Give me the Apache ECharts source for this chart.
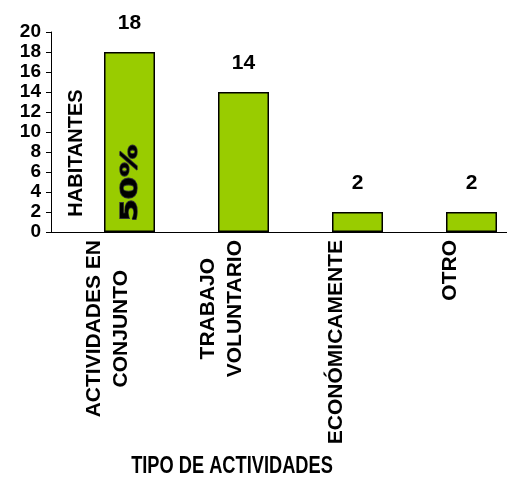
<!DOCTYPE html>
<html>
<head>
<meta charset="utf-8">
<script src="https://cdn.jsdelivr.net/npm/echarts@6/dist/echarts.min.js"></script>
<style>
  html, body { margin: 0; padding: 0; background: #fff; }
  #chart { width: 507px; height: 477px; }
</style>
</head>
<body>
<div id="chart"></div>
<script>
// Inhabitants by type of activity
const categories = ['ACTIVIDADES EN\nCONJUNTO', 'TRABAJO\nVOLUNTARIO', 'ECONÓMICAMENTE', 'OTRO'];
const habitantes = [18, 14, 2, 2];
// empty leading slot in every category, pushes the bars to the right
const spacer = ['-', '-', '-', '-'];
const yMin = 0, yMax = 20, yStep = 2;

const FONT = '"Liberation Sans", Arial, sans-serif';
const total = habitantes.reduce((a, b) => a + b, 0);
const share = Math.round(habitantes[0] / total * 100) + '%';

const chart = echarts.init(document.getElementById('chart'), null, { renderer: 'canvas' });

const option = {
  animation: false,
  backgroundColor: '#fff',
  grid: { left: 51, right: 0, top: 32, bottom: 245 },
  xAxis: {
    type: 'category',
    data: categories,
    axisLine: { lineStyle: { color: '#000', width: 1 } },
    axisTick: { length: 5, lineStyle: { color: '#000' } },
    axisLabel: {
      interval: 0,
      rotate: 90,
      margin: 8,
      color: '#000',
      fontFamily: FONT,
      fontSize: 21,
      fontWeight: 'bold',
      lineHeight: 27,
      formatter: v => v.split('\n').map(l => '{c|' + l + '}').join('\n'),
      rich: {
        c: { align: 'center', color: '#000', fontFamily: FONT, fontSize: 21, fontWeight: 'bold', lineHeight: 27 }
      }
    }
  },
  yAxis: {
    type: 'value',
    min: yMin, max: yMax, interval: yStep,
    splitLine: { show: false },
    axisLine: { show: true, lineStyle: { color: '#000', width: 1 } },
    axisTick: { show: true, length: 5, lineStyle: { color: '#000' } },
    axisLabel: { margin: 10, color: '#000', fontFamily: FONT, fontSize: 19, fontWeight: 'bold' }
  },
  series: [
    {
      type: 'bar', data: spacer, barWidth: 43, barGap: 0, silent: true,
      itemStyle: { color: 'transparent' }
    },
    {
      type: 'bar', data: habitantes, barWidth: 51, barGap: 0,
      itemStyle: { color: '#99CC00', borderColor: '#000', borderWidth: 1.5 },
      label: {
        show: true, position: 'top', distance: 18,
        color: '#000', fontFamily: FONT, fontSize: 21, fontWeight: 'bold'
      }
    }
  ],
  graphic: [
    {
      type: 'text', x: 76, y: 153, rotation: Math.PI / 2, z: 100,
      style: {
        text: 'HABITANTES', fill: '#000',
        font: 'bold 20px ' + FONT,
        align: 'center', verticalAlign: 'middle',
        textAlign: 'center', textVerticalAlign: 'middle'
      }
    },
    {
      type: 'text', x: 131, y: 183, rotation: Math.PI / 2, scaleX: 1.4, z: 100,
      style: {
        text: share, fill: '#000', stroke: '#333', lineWidth: 1.4,
        font: 'bold 23px "DejaVu Sans", sans-serif',
        align: 'center', verticalAlign: 'middle',
        textAlign: 'center', textVerticalAlign: 'middle'
      }
    },
    {
      type: 'text', x: 232, y: 466, scaleX: 0.76, z: 100,
      style: {
        text: 'TIPO DE ACTIVIDADES', fill: '#000',
        font: 'bold 24px ' + FONT,
        align: 'center', verticalAlign: 'middle',
        textAlign: 'center', textVerticalAlign: 'middle'
      }
    }
  ]
};

chart.setOption(option);
</script>
</body>
</html>
